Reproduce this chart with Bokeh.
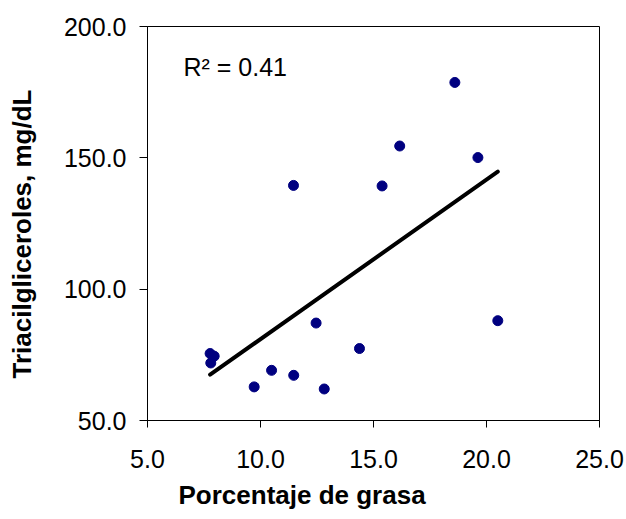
import numpy as np
from bokeh.plotting import figure
from bokeh.models import (Range1d, FixedTicker, NumeralTickFormatter, Label,
                          Title, LinearAxis)
from bokeh.embed import file_html
from bokeh.resources import INLINE

# Data
grasa = [7.77, 7.95, 7.80, 9.72, 10.49, 11.47, 11.46, 12.46, 12.82, 14.38,
         15.38, 16.16, 18.60, 19.62, 20.50]
trigliceridos = [75.5, 74.5, 71.9, 62.8, 69.1, 67.2, 139.5, 87.1, 62.0, 77.4,
                 139.3, 154.5, 178.7, 150.1, 88.0]
x_ticks = [5, 10, 15, 20, 25]
y_ticks = [50, 100, 150, 200]
r2_text = "R\u00b2 = 0.41"
x_title = "Porcentaje de grasa"
y_title = "Triacilgliceroles, mg/dL"

FONT = "Liberation Sans"

p = figure(width=626, height=519, output_backend="svg", toolbar_location=None,
           x_range=Range1d(5, 25), y_range=Range1d(50, 200),
           min_border_left=147, min_border_right=27,
           min_border_top=26, min_border_bottom=99)
p.background_fill_color = "white"
p.border_fill_color = "white"
p.outline_line_color = "black"
p.outline_line_width = 1
p.grid.visible = False

for ax in (p.xaxis[0], p.yaxis[0]):
    ax.axis_line_color = "black"
    ax.axis_line_width = 1
    ax.major_tick_line_color = "black"
    ax.major_tick_in = 0
    ax.minor_tick_line_color = None
    ax.major_label_text_font = FONT
    ax.major_label_text_font_size = "25px"
    ax.major_label_text_color = "black"
    ax.formatter = NumeralTickFormatter(format="0.0")

p.xaxis[0].ticker = FixedTicker(ticks=x_ticks)
p.yaxis[0].ticker = FixedTicker(ticks=y_ticks)
p.xaxis[0].major_tick_out = 7
p.yaxis[0].major_tick_out = 8
p.xaxis[0].major_label_standoff = 22
p.yaxis[0].major_label_standoff = 13


def spacer(px, tick):
    """An invisible axis used only as a gap between an axis and its title."""
    return LinearAxis(ticker=FixedTicker(ticks=[tick]), axis_line_color=None,
                      major_tick_line_color=None, minor_tick_line_color=None,
                      major_tick_in=0, major_tick_out=px, minor_tick_out=0,
                      major_label_standoff=0,
                      major_label_overrides={tick: ""},
                      major_label_text_font_size="1px",
                      major_label_text_color=None)


p.add_layout(spacer(6, x_ticks[2]), "below")
p.add_layout(spacer(21, y_ticks[1]), "left")

# trend line from least-squares fit of the data
slope, intercept = np.polyfit(grasa, trigliceridos, 1)
fx = [min(grasa), max(grasa)]
fy = [slope * v + intercept for v in fx]
p.line(fx, fy, line_color="black", line_width=4, line_cap="round")

p.scatter(grasa, trigliceridos, size=10, fill_color="#000080",
          line_color="#000080", marker="circle")

p.add_layout(Label(x=6.59, y=184.4, text=r2_text, text_font=FONT,
                   text_font_size="25px", text_align="left",
                   text_baseline="middle", text_color="black"))

p.add_layout(Title(text=x_title, text_font=FONT, text_font_size="26px",
                   text_font_style="bold", text_color="black",
                   align="left", offset=31, standoff=3), "below")
p.add_layout(Title(text=y_title, text_font=FONT, text_font_size="26px",
                   text_font_style="bold", text_color="black",
                   align="left", offset=42, standoff=6), "left")

open("out.html", "w").write(file_html(p, INLINE))
